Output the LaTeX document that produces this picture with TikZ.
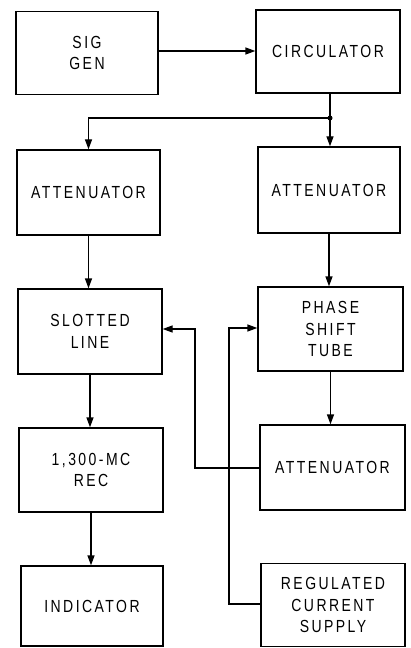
\documentclass[tikz,border=0pt]{standalone}
\usepackage{fontspec}
\setmainfont{Liberation Sans}[LetterSpace=14,FakeStretch=0.8]
\usetikzlibrary{arrows.meta}
\begin{document}
\begin{tikzpicture}[x=1bp,y=-1bp,
  blk/.style={draw,line width=1.3bp,rectangle,inner sep=0pt,align=center,
    font=\fontsize{17.5bp}{21.5bp}\selectfont},
  conn/.style={line width=1.3bp},
  arr/.style={conn,-{Triangle[length=10bp,width=7bp]}}]
\useasboundingbox (0,0) rectangle (410,648);
\node[blk,minimum width=142bp,minimum height=83bp] (sig) at (87,53) {SIG\\GEN};
\node[blk,minimum width=144bp,minimum height=83bp] (circ) at (328,51.5) {CIRCULATOR};
\node[blk,minimum width=143bp,minimum height=85bp] (att1) at (88.5,192.5) {ATTENUATOR};
\node[blk,minimum width=142bp,minimum height=86bp] (att2) at (329,190) {ATTENUATOR};
\node[blk,minimum width=144bp,minimum height=85bp] (slot) at (90,331.5) {SLOTTED\\LINE};
\node[blk,minimum width=145bp,minimum height=84bp] (phase) at (330.5,329) {PHASE\\SHIFT\\TUBE};
\node[blk,minimum width=144bp,minimum height=84bp] (rec) at (91,470) {1,300-MC\\REC};
\node[blk,minimum width=145bp,minimum height=85bp] (att3) at (332.5,467.5) {ATTENUATOR};
\node[blk,minimum width=142bp,minimum height=80bp] (ind) at (92,606) {INDICATOR};
\node[blk,minimum width=144bp,minimum height=83bp] (reg) at (333,605) {REGULATED\\CURRENT\\SUPPLY};
% connectors
\draw[arr] (sig.east |- 0,51) -- (circ.west |- 0,51);
\coordinate (j) at (330,118);
\draw[conn] (circ.south -| j) -- (j);
\fill (j) circle (2.5bp);
\draw[arr] (j) -| (att1.north);
\draw[arr] (j) -- (j |- att2.north);
\draw[arr] (att1.south) -- (att1.south |- slot.north);
\draw[arr] (att2.south) -- (att2.south |- phase.north);
\draw[arr] (slot.south) -- (slot.south |- rec.north);
\draw[arr] (phase.south) -- (phase.south |- att3.north);
\draw[arr] (rec.south) -- (rec.south |- ind.north);
\coordinate (f1) at (195,468);
\coordinate (f2) at (195,329);
\draw[arr] (att3.west |- f1) -- (f1) -- (f2) -- (slot.east |- f2);
\coordinate (g1) at (229,604);
\coordinate (g2) at (229,328);
\draw[arr] (reg.west |- g1) -- (g1) -- (g2) -- (phase.west |- g2);
\end{tikzpicture}
\end{document}
